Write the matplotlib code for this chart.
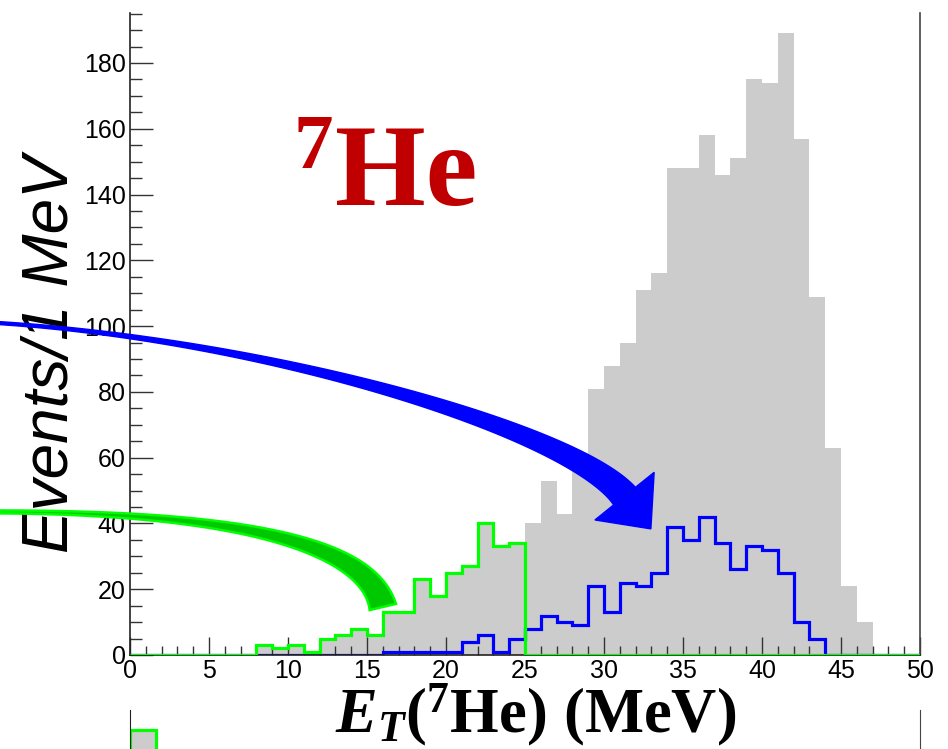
import numpy as np
import matplotlib
matplotlib.use("Agg")
import matplotlib.pyplot as plt
from matplotlib.patches import Polygon

plt.rcParams["font.family"] = ["Liberation Sans", "DejaVu Sans"]
plt.rcParams["mathtext.fontset"] = "custom"
plt.rcParams["mathtext.rm"] = "Liberation Serif:bold"
plt.rcParams["mathtext.it"] = "Liberation Serif:italic:bold"
plt.rcParams["mathtext.bf"] = "Liberation Serif:bold"

# 1 MeV bins, 0..50
bin_edges = np.arange(0, 51, 1)

# all events (grey fill)
total_counts = [0, 0, 0, 0, 0, 0, 0, 0, 3, 2,
                3, 1, 5, 6, 8, 6, 13, 13, 23, 18,
                25, 27, 40, 33, 34, 40, 53, 43, 57, 81,
                88, 95, 111, 116, 148, 148, 158, 146, 151, 175,
                174, 189, 157, 109, 63, 21, 10, 0, 0, 0]
# green selection
green_counts = [0, 0, 0, 0, 0, 0, 0, 0, 3, 2,
                3, 1, 5, 6, 8, 6, 13, 13, 23, 18,
                25, 27, 40, 33, 34, 0, 0, 0, 0, 0,
                0, 0, 0, 0, 0, 0, 0, 0, 0, 0,
                0, 0, 0, 0, 0, 0, 0, 0, 0, 0]
# blue selection
blue_counts = [0, 0, 0, 0, 0, 0, 0, 0, 0, 0,
               0, 0, 0, 0, 0, 0, 1, 1, 1, 1,
               1, 4, 6, 1, 5, 8, 12, 10, 9, 21,
               13, 22, 21, 25, 39, 35, 42, 34, 26, 33,
               32, 25, 10, 5, 0, 0, 0, 0, 0, 0]

# partly visible lower pad
lower_edges = [0, 1]
lower_counts = [100]

# curved arrows (data coords: cubic control points)
blue_arrow = [(-8.23, 100.9), (9.0, 95.5), (28.0, 68.0), (31.3, 48.3)]
green_arrow = [(-8.23, 43.5), (5.7, 43.3), (15.0, 35.0), (16.0, 14.6)]

fig = plt.figure(figsize=(9.48, 7.49), dpi=100)
ax = fig.add_axes([130 / 948, 1 - 655 / 749, 790 / 948, 642 / 749])

ax.stairs(total_counts, bin_edges, fill=True, color="#cccccc", zorder=1)
ax.stairs(blue_counts, bin_edges, color="#0000ff", lw=2.3, zorder=2)
ax.stairs(green_counts, bin_edges, color="#00ff00", lw=2.3, zorder=3)

ax.set_xlim(0, 50)
ax.set_ylim(0, 195.2)
ax.set_xticks(np.arange(0, 51, 5))
ax.set_xticks(np.arange(0, 51, 1), minor=True)
ax.set_yticks(np.arange(0, 181, 20))
ax.set_yticks(np.arange(0, 196, 5), minor=True)
ax.tick_params(axis="both", which="both", direction="in", color="#333333",
               width=1.0, labelsize=18, pad=3)
ax.tick_params(axis="y", which="major", length=16.5)
ax.tick_params(axis="y", which="minor", length=8.3)
ax.tick_params(axis="x", which="major", length=13)
ax.tick_params(axis="x", which="minor", length=6.5)
ax.tick_params(top=False, right=False)
ax.spines["top"].set_visible(False)
ax.spines["left"].set_color("#222222")
ax.spines["right"].set_color("#444444")
ax.spines["bottom"].set_color("#222222")
for sp in ax.spines.values():
    sp.set_linewidth(1.2)

fig.text(51 / 948, 1 - 354 / 749, "Events/1 MeV", rotation=90, fontsize=46,
         style="italic", ha="center", va="center")
fig.text(536 / 948, 1 - 732 / 749,
         r"$E_{T}(^{7}\mathrm{He})\ (\mathrm{MeV})$",
         fontsize=45, ha="center", va="baseline")

ax.text((335 - 130) / 15.8, (655 - 205) / 3.289, "He", fontsize=84,
        family="Liberation Serif", weight="bold", color="#c00000",
        ha="left", va="baseline")
ax.text((293 - 130) / 15.8, (655 - 168) / 3.289, "7", fontsize=57,
        family="Liberation Serif", weight="bold", color="#c00000",
        ha="left", va="baseline")


def ribbon(ctrl, w0, w1, n=120):
    p = ax.transData.transform(np.array(ctrl))
    t = np.linspace(0, 1, n)[:, None]
    b = ((1 - t) ** 3 * p[0] + 3 * (1 - t) ** 2 * t * p[1]
         + 3 * (1 - t) * t ** 2 * p[2] + t ** 3 * p[3])
    d = (3 * (1 - t) ** 2 * (p[1] - p[0]) + 6 * (1 - t) * t * (p[2] - p[1])
         + 3 * t ** 2 * (p[3] - p[2]))
    d = d / np.linalg.norm(d, axis=1)[:, None]
    nrm = np.column_stack([-d[:, 1], d[:, 0]])
    w = (w0 + (w1 - w0) * t[:, 0] ** 1.6)[:, None]
    return b + nrm * w / 2, b - nrm * w / 2, b[-1], d[-1], nrm[-1]


inv = ax.transData.inverted()

# blue arrow with head
left, right, end, dirn, nrm = ribbon(blue_arrow, 3, 28)
tip = end + dirn * 42
head = [end + nrm * 38, tip, end - nrm * 38]
pts = np.vstack([left, head, right[::-1]])
fig.add_artist(Polygon(inv.transform(pts), closed=True, transform=ax.transData,
                       facecolor="#0000ff", edgecolor="#0000ff", lw=1,
                       zorder=6))

# green arrow, flat end
left, right, end, dirn, nrm = ribbon(green_arrow, 3, 27)
pts = np.vstack([left, right[::-1]])
fig.add_artist(Polygon(inv.transform(pts), closed=True, transform=ax.transData,
                       facecolor="#00c800", edgecolor="#00ff00", lw=1.8,
                       zorder=6))

# lower pad, cut off by the figure edge
ax2 = fig.add_axes([130 / 948, -0.3, 790 / 948, 0.3 + 1 - 710 / 749])
ax2.stairs(lower_counts, lower_edges, fill=True, color="#cccccc")
ax2.stairs(lower_counts, lower_edges, color="#00ff00", lw=2.3)
ax2.set_xlim(0, 30)
ax2.set_ylim(0, 108)
ax2.set_xticks([])
ax2.set_yticks([])
ax2.spines["top"].set_visible(False)
ax2.spines["left"].set_color("#222222")
ax2.spines["right"].set_color("#444444")

fig.savefig("out.png", dpi=100)
